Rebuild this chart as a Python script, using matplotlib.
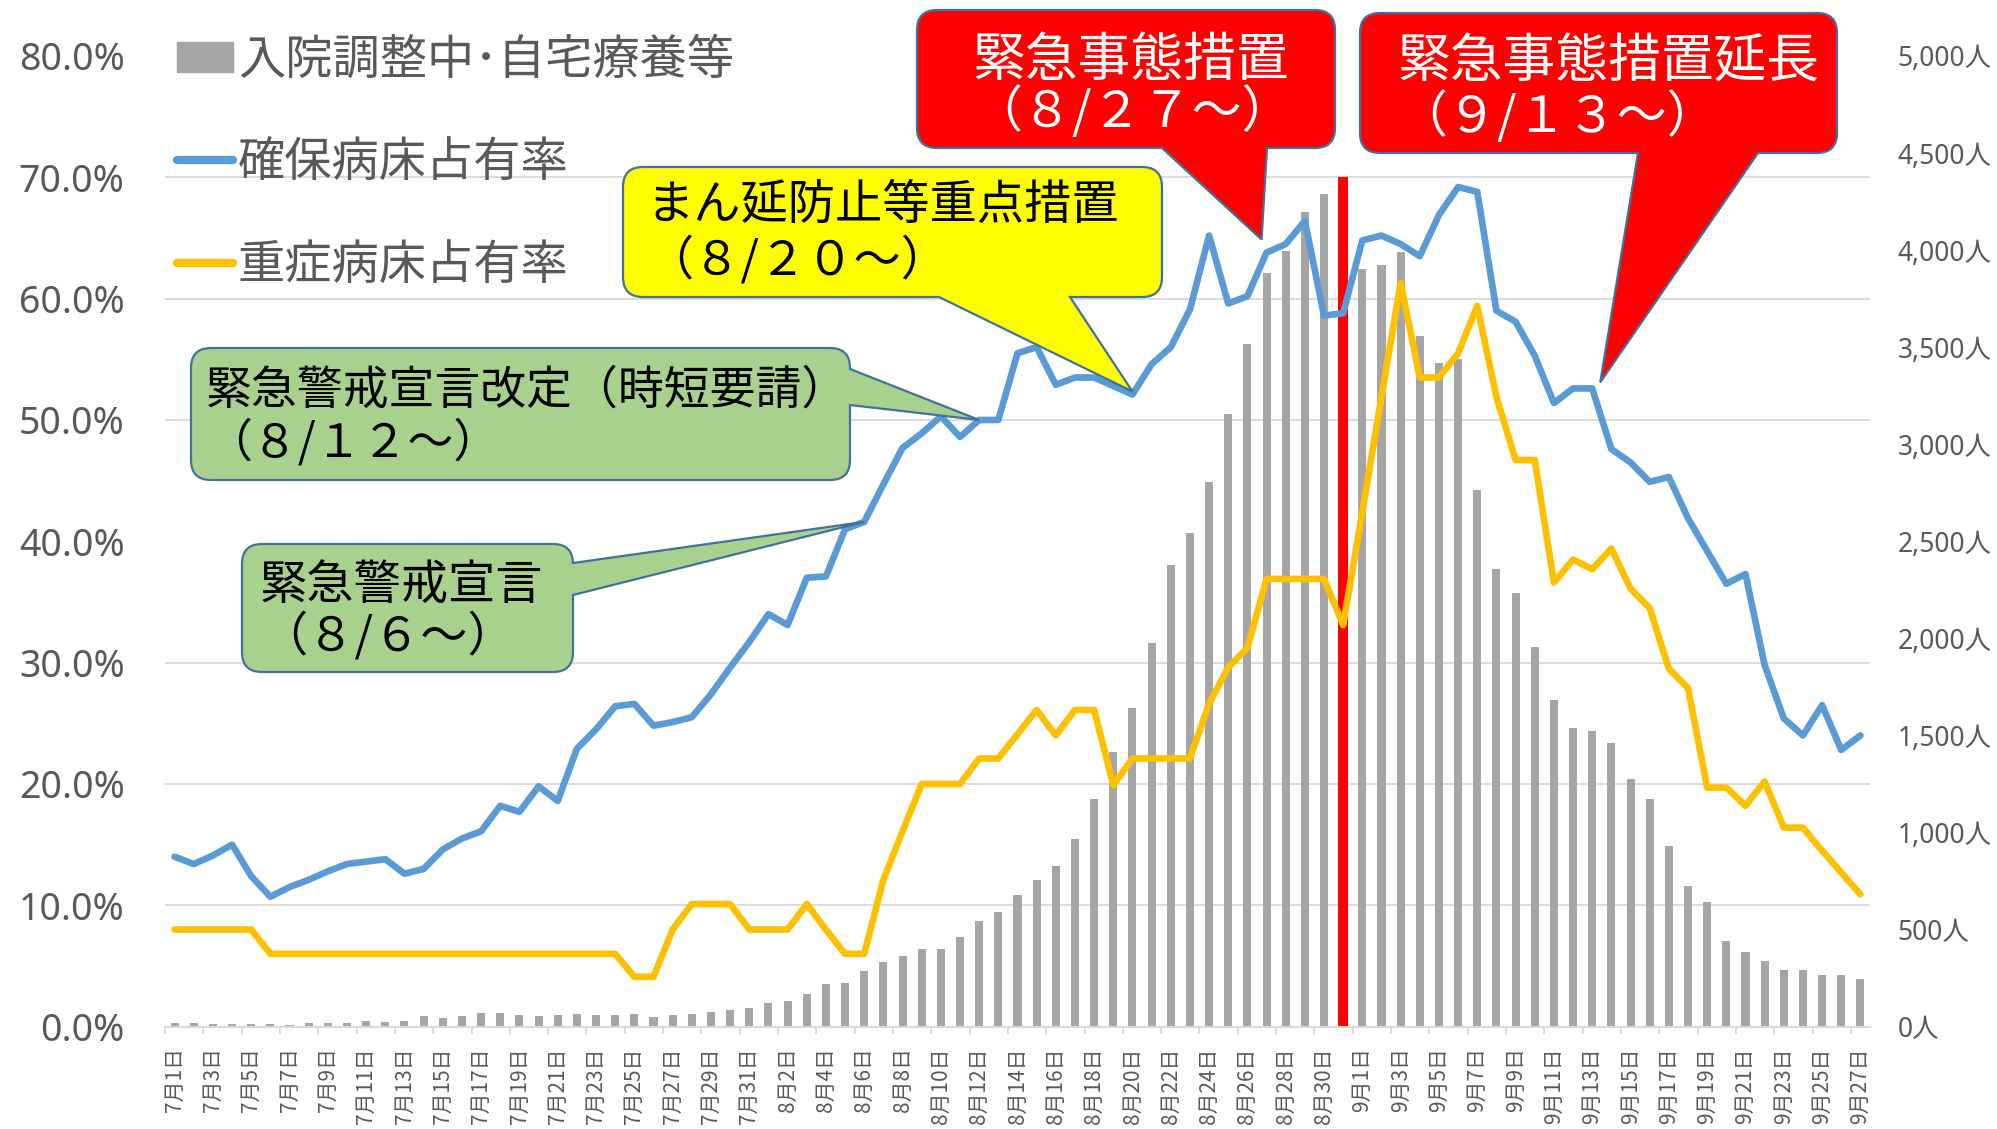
import matplotlib
matplotlib.use('Agg')

import matplotlib.pyplot as plt
import pandas as pd
from matplotlib.lines import Line2D
from matplotlib.patches import Patch, PathPatch
from matplotlib.path import Path
from matplotlib.ticker import FixedLocator, FuncFormatter, MultipleLocator
from matplotlib.transforms import IdentityTransform

W, H = 1997, 1129
JP = ['Noto Sans CJK JP', 'DejaVu Sans']
NUM = ['Noto Sans', 'Noto Sans CJK JP']
GREY_TXT = '#595959'
GRID = '#d9d9d9'

# categories: one per day, 7/1 .. 9/27
dates = pd.date_range('2021-07-01', '2021-09-27')
day_labels = [f'{d.month}月{d.day}日' for d in dates]

# 入院調整中・自宅療養等 (persons, right axis)
waiting = [17, 19, 14, 14, 14, 12, 10, 17, 17, 17,
           31, 26, 29, 57, 46, 53, 72, 69, 60, 53,
           60, 64, 60, 60, 64, 52, 58, 67, 75, 83, 98,
           119, 132, 170, 218, 225, 287, 335, 364, 400, 400,
           459, 546, 588, 679, 756, 828, 967, 1172, 1417, 1642,
           1976, 2378, 2545, 2808, 3155, 3517, 3883, 3998, 4195, 4287, 4375,
           3905, 3924, 3989, 3557, 3420, 3440, 2763, 2357, 2234, 1958,
           1680, 1538, 1522, 1460, 1278, 1175, 928, 725, 642, 443,
           385, 340, 290, 294, 264, 264, 244]
highlight_day = '8月31日'

# 確保病床占有率 (%)
bed_rate = [14.0, 13.4, 14.1, 15.0, 12.4, 10.7, 11.5, 12.1, 12.8, 13.4,
            13.6, 13.8, 12.6, 13.0, 14.6, 15.5, 16.1, 18.2, 17.7, 19.8,
            18.6, 22.9, 24.5, 26.4, 26.6, 24.8, 25.1, 25.5, 27.4, 29.6, 31.7,
            34.0, 33.1, 37.0, 37.1, 41.0, 41.6, 44.7, 47.7, 48.9, 50.3,
            48.6, 50.0, 50.0, 55.5, 56.0, 52.9, 53.5, 53.5, 52.8, 52.1,
            54.6, 56.0, 59.1, 65.2, 59.6, 60.2, 63.8, 64.5, 66.4, 58.6, 58.8,
            64.8, 65.2, 64.5, 63.5, 66.9, 69.2, 68.8, 59.0, 58.1, 55.3,
            51.4, 52.6, 52.6, 47.6, 46.5, 44.9, 45.3, 41.9, 39.2, 36.5,
            37.3, 29.8, 25.4, 24.0, 26.5, 22.8, 24.0]

# 重症病床占有率 (%)
severe_rate = [8.0, 8.0, 8.0, 8.0, 8.0, 6.0, 6.0, 6.0, 6.0, 6.0,
               6.0, 6.0, 6.0, 6.0, 6.0, 6.0, 6.0, 6.0, 6.0, 6.0,
               6.0, 6.0, 6.0, 6.0, 4.1, 4.1, 8.0, 10.1, 10.1, 10.1, 8.0,
               8.0, 8.0, 10.1, 8.0, 6.0, 6.0, 12.1, 16.1, 20.0, 20.0,
               20.0, 22.1, 22.1, 24.1, 26.1, 24.0, 26.1, 26.1, 19.9, 22.1,
               22.1, 22.1, 22.1, 26.6, 29.6, 31.2, 36.9, 36.9, 36.9, 36.9, 33.1,
               42.4, 51.9, 61.3, 53.5, 53.5, 55.5, 59.4, 51.9, 46.7, 46.7,
               36.6, 38.5, 37.7, 39.4, 36.1, 34.5, 29.5, 27.9, 19.7, 19.7,
               18.2, 20.2, 16.4, 16.4, 14.5, 12.7, 10.9]

series_names = ['入院調整中･自宅療養等', '確保病床占有率', '重症病床占有率']
colors = {'bar': '#A5A5A5', 'bed': '#5B9BD5', 'severe': '#FFC000', 'mark': '#FF0000'}

x = list(range(len(day_labels)))

fig = plt.figure(figsize=(W / 100, H / 100), dpi=100)
ax = fig.add_axes([165 / W, 1 - 1026.6 / H, (1870 - 165) / W, (1026.6 - 56) / H])
ax2 = ax.twinx()
ax.yaxis.tick_right()
ax2.yaxis.tick_left()

# bars (right axis)
hl = day_labels.index(highlight_day)
bar_colors = [colors['mark'] if i == hl else colors['bar'] for i in x]
bar_widths = [0.5 if i == hl else 0.42 for i in x]
ax.bar(x, waiting, width=bar_widths, color=bar_colors, zorder=2)
ax.set_xlim(-0.5, len(x) - 0.5)
ax.set_ylim(0, 5000)
ax.yaxis.set_major_locator(MultipleLocator(500))
ax.yaxis.set_major_formatter(FuncFormatter(lambda v, p: f'{v:,.0f}人'))
ax.yaxis.set_minor_locator(MultipleLocator(625))
ax.grid(axis='y', which='minor', color=GRID, lw=1.3, zorder=0)
ax.tick_params(axis='y', which='both', length=0, pad=20, labelsize=19, labelcolor=GREY_TXT)
for lab in ax.get_yticklabels():
    lab.set_family(NUM)

ax.set_xticks(x[::2])
ax.set_xticklabels(day_labels[::2], rotation=90, family=JP, fontsize=15, color=GREY_TXT)
ax.xaxis.set_minor_locator(FixedLocator([i - 0.5 for i in x[::2]]))
ax.tick_params(axis='x', which='major', length=0, pad=15)
ax.tick_params(axis='x', which='minor', length=5, width=1.3, color=GRID)
for s in ['top', 'left', 'right']:
    ax.spines[s].set_visible(False)
ax.spines['bottom'].set_color(GRID)
ax.spines['bottom'].set_linewidth(1.5)

# lines (left axis)
ax2.plot(x, bed_rate, color=colors['bed'], lw=4.8, solid_joinstyle='round', solid_capstyle='round', zorder=3)
ax2.plot(x, severe_rate, color=colors['severe'], lw=4.8, solid_joinstyle='round', solid_capstyle='round', zorder=3)
ax2.set_ylim(0, 80)
ax2.yaxis.set_major_locator(MultipleLocator(10))
ax2.yaxis.set_major_formatter(FuncFormatter(lambda v, p: f'{v:.1f}%'))
ax2.tick_params(axis='y', length=0, pad=29, labelsize=27, labelcolor=GREY_TXT)
for lab in ax2.get_yticklabels():
    lab.set_family(NUM)
for s in ax2.spines.values():
    s.set_visible(False)

handles = [Patch(color=colors['bar']),
           Line2D([], [], color=colors['bed'], lw=6, solid_capstyle='round'),
           Line2D([], [], color=colors['severe'], lw=6, solid_capstyle='round')]
ax2.legend(handles, series_names, loc='upper left', bbox_to_anchor=(177 / W, 1 - 36 / H),
           bbox_transform=fig.transFigure, frameon=False, borderpad=0, borderaxespad=0,
           prop={'family': JP, 'size': 34}, labelcolor=GREY_TXT, handlelength=1.19,
           handleheight=0.6, handletextpad=0.1, labelspacing=1.15)


def to_px(i, val, dx=0, dy=0):
    px, py = ax2.transData.transform((i, val))
    return px + dx, H - py + dy


def callout(box, side, base, tip, face, r=20):
    x0, y0, x1, y1 = box
    verts = [(x0 + r, y0), (x1 - r, y0), (x1, y0), (x1, y0 + r)]
    codes = [Path.MOVETO, Path.LINETO, Path.CURVE3, Path.CURVE3]
    if side == 'right':
        verts += [(x1, base[0]), tip, (x1, base[1])]
        codes += [Path.LINETO] * 3
    verts += [(x1, y1 - r), (x1, y1), (x1 - r, y1)]
    codes += [Path.LINETO, Path.CURVE3, Path.CURVE3]
    if side == 'bottom':
        verts += [(base[1], y1), tip, (base[0], y1)]
        codes += [Path.LINETO] * 3
    verts += [(x0 + r, y1), (x0, y1), (x0, y1 - r), (x0, y0 + r), (x0, y0), (x0 + r, y0), (x0 + r, y0)]
    codes += [Path.LINETO, Path.CURVE3, Path.CURVE3, Path.LINETO, Path.CURVE3, Path.CURVE3, Path.CLOSEPOLY]
    verts = [(vx, H - vy) for vx, vy in verts]
    fig.add_artist(PathPatch(Path(verts, codes), facecolor=face, edgecolor='#41719C', lw=1.6,
                             transform=IdentityTransform(), zorder=5))


def label(xp, yp, s, size, color='black'):
    fig.text(xp / W, 1 - yp / H, s, fontsize=size, color=color, family=JP,
             ha='left', va='center', zorder=6)


def day(lbl):
    return day_labels.index(lbl)


# 緊急警戒宣言 (8/6)
callout((242, 544, 573, 672), 'right', (563, 595), to_px(day('8月6日'), bed_rate[day('8月6日')]), '#A9D18E')
label(260, 586, '緊急警戒宣言', 34)
label(260, 637, '（８/６～）', 34)

# 緊急警戒宣言改定 (8/12)
callout((191, 348, 850, 480), 'right', (369, 405), to_px(day('8月12日'), bed_rate[day('8月12日')]), '#A9D18E')
label(206, 390, '緊急警戒宣言改定（時短要請）', 33)
label(206, 443, '（８/１２～）', 33)

# まん延防止等重点措置 (8/20)
callout((623, 167, 1162, 297), 'bottom', (939, 1070), to_px(day('8月20日'), bed_rate[day('8月20日')], 0, -3), '#FFFF00')
label(646, 206, 'まん延防止等重点措置', 34)
label(646, 261, '（８/２０～）', 34)

# 緊急事態措置 (8/27)
callout((917, 10, 1335, 148), 'bottom', (1162, 1267), to_px(day('8月27日'), bed_rate[day('8月27日')], -5, -13), '#FF0000')
label(972, 60, '緊急事態措置', 38, 'white')
label(972, 113, '（８/２７～）', 36, 'white')

# 緊急事態措置延長 (9/13)
callout((1360, 13, 1837, 153), 'bottom', (1638, 1758), to_px(day('9月13日'), bed_rate[day('9月13日')], 8, -6), '#FF0000')
label(1397, 62, '緊急事態措置延長', 38, 'white')
label(1397, 118, '（９/１３～）', 36, 'white')

fig.savefig('out.png', dpi=100)
